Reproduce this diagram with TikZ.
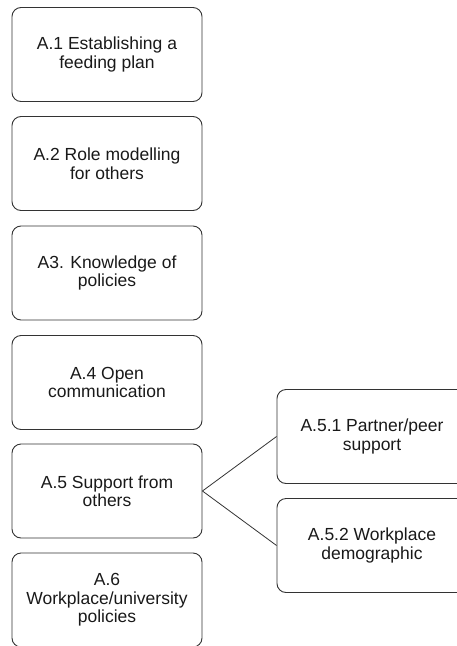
\documentclass[tikz,border=0pt]{standalone}
\usepackage{fontspec}
\setmainfont{Liberation Sans}
\begin{document}
\begin{tikzpicture}[x=1pt,y=-1pt,
  box/.style={draw=black!80, line width=0.9pt, rounded corners=9pt, minimum width=190pt, minimum height=94pt, align=center, inner sep=0pt, font=\fontsize{17.5}{18.5}\selectfont, text=black!90},
  link/.style={draw=black!80, line width=0.8pt}]
\useasboundingbox (0,0) rectangle (456,646);
\node[box] (a1) at (107,54.5) {A.1 Establishing a\\feeding plan};
\node[box] (a2) at (107,163.5) {A.2 Role modelling\\for others};
\node[box] (a3) at (107,273) {A3. Knowledge of\\policies};
\node[box] (a4) at (107,382.5) {A.4 Open\\communication};
\node[box] (a5) at (107,491) {A.5 Support from\\others};
\node[box] (a6) at (107,600) {A.6\\Workplace/university\\policies};
\node[box] (a51) at (372,436.5) {A.5.1 Partner/peer\\support};
\node[box] (a52) at (372,545.5) {A.5.2 Workplace\\demographic};
\draw[link] (a5.east) -- (a51.west);
\draw[link] (a5.east) -- (a52.west);
\end{tikzpicture}
\end{document}
